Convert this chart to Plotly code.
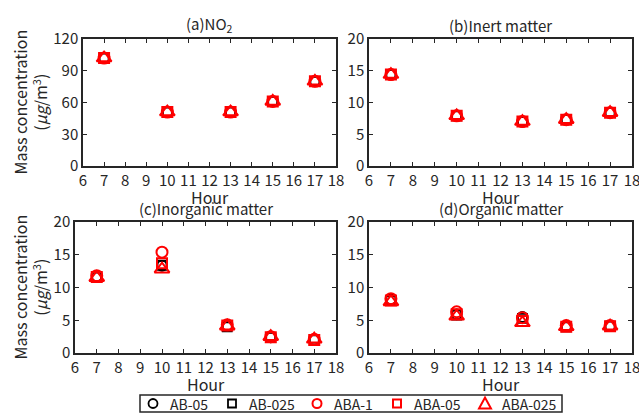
import plotly.graph_objects as go

W, H = 639, 413

hours = [7, 10, 13, 15, 17]
series_names = ["AB-05", "AB-025", "ABA-1", "ABA-05", "ABA-025"]

# (a) NO2
no2_ab05 = [102, 51, 51, 61, 80]
no2_ab025 = [102, 51, 51, 61, 80]
no2_aba1 = [102, 51, 51, 61, 80]
no2_aba05 = [102, 51, 51, 61, 80]
no2_aba025 = [102, 51, 51, 61, 80]

# (b) Inert matter
inert_ab05 = [14.4, 7.9, 7.0, 7.3, 8.4]
inert_ab025 = [14.4, 7.9, 7.0, 7.3, 8.4]
inert_aba1 = [14.4, 7.9, 7.0, 7.3, 8.4]
inert_aba05 = [14.4, 7.9, 7.0, 7.3, 8.4]
inert_aba025 = [14.4, 7.9, 7.0, 7.3, 8.4]

# (c) Inorganic matter
inorg_ab05 = [11.7, 13.3, 4.1, 2.4, 2.0]
inorg_ab025 = [11.6, 13.4, 4.0, 2.4, 2.0]
inorg_aba1 = [11.8, 15.4, 4.3, 2.5, 2.1]
inorg_aba05 = [11.6, 13.7, 4.2, 2.4, 2.0]
inorg_aba025 = [11.5, 12.8, 4.1, 2.5, 2.1]

# (d) Organic matter
org_ab05 = [8.2, 5.9, 5.5, 4.1, 4.1]
org_ab025 = [8.0, 5.8, 5.3, 4.0, 4.1]
org_aba1 = [8.3, 6.3, 5.4, 4.2, 4.2]
org_aba05 = [8.0, 5.9, 4.9, 4.0, 4.1]
org_aba025 = [7.8, 5.6, 4.6, 4.0, 4.1]

titles = ["(a)NO<sub>2</sub>", "(b)Inert matter", "(c)Inorganic matter", "(d)Organic matter"]
x_ticks = list(range(6, 19))
y_ranges = [(0, 120, 30), (0, 20, 5), (0, 20, 5), (0, 20, 5)]

panels = [
    [no2_ab05, no2_ab025, no2_aba1, no2_aba05, no2_aba025],
    [inert_ab05, inert_ab025, inert_aba1, inert_aba05, inert_aba025],
    [inorg_ab05, inorg_ab025, inorg_aba1, inorg_aba05, inorg_aba025],
    [org_ab05, org_ab025, org_aba1, org_aba05, org_aba025],
]

styles = [
    dict(symbol="circle-open", color="black", size=10),
    dict(symbol="square-open", color="black", size=9),
    dict(symbol="circle-open", color="red", size=11),
    dict(symbol="square-open", color="red", size=10),
    dict(symbol="triangle-up-open", color="red", size=13),
]

# pixel boxes: (left, right, top, bottom)
boxes = [(83, 336, 39, 166), (369, 632, 39, 166), (75, 336, 222, 353), (369, 632, 222, 353)]

FONT = "Noto Sans CJK JP"
TXT = "#262626"

fig = go.Figure()
for p, vals in enumerate(panels):
    ax = "" if p == 0 else str(p + 1)
    for s, v in enumerate(vals):
        st = styles[s]
        fig.add_trace(go.Scatter(
            x=hours, y=v, mode="markers", name=series_names[s],
            xaxis="x" + ax, yaxis="y" + ax, showlegend=False,
            marker=dict(symbol=st["symbol"], color=st["color"], size=st["size"],
                        line=dict(width=2 if st["color"] == "red" else 1.8, color=st["color"])),
        ))

layout = dict(
    width=W, height=H, margin=dict(l=0, r=0, t=0, b=0, autoexpand=False),
    paper_bgcolor="white", plot_bgcolor="white",
    font=dict(family=FONT, size=14, color=TXT),
    showlegend=False,
    annotations=[], shapes=[],
)

for p, (l, r, t, b) in enumerate(boxes):
    ax = "" if p == 0 else str(p + 1)
    y0, y1, dy = y_ranges[p]
    layout["xaxis" + ax] = dict(
        domain=[l / W, r / W], anchor="y" + ax, range=[6, 18],
        tickvals=x_ticks, ticks="inside", ticklen=4, tickwidth=1, tickcolor=TXT,
        showline=True, linecolor=TXT, linewidth=1.5, mirror="ticks",
        showgrid=False, zeroline=False, tickfont=dict(size=15, color=TXT),
        ticklabeloverflow="allow",
    )
    layout["yaxis" + ax] = dict(
        domain=[1 - b / H, 1 - t / H], anchor="x" + ax, range=[y0, y1],
        tickvals=list(range(y0, y1 + 1, dy)), ticks="inside", ticklen=4, tickwidth=1,
        tickcolor=TXT, showline=True, linecolor=TXT, linewidth=1.5, mirror="ticks",
        showgrid=False, zeroline=False, tickfont=dict(size=15, color=TXT),
    )
    cx = (l + r) / 2 / W
    layout["annotations"].append(dict(
        text=titles[p], x=cx, y=1 - (t - 1) / H, xref="paper", yref="paper",
        xanchor="center", yanchor="bottom", showarrow=False, font=dict(size=15, color=TXT)))
    layout["annotations"].append(dict(
        text="Hour", x=cx, y=1 - (b + 31) / H, xref="paper", yref="paper",
        xanchor="center", yanchor="middle", showarrow=False, font=dict(size=16, color=TXT)))
    if p in (0, 2):
        layout["annotations"].append(dict(
            text="Mass concentration<br>(<i>μg</i>/m<sup>3</sup>)", x=30 / W, y=1 - (t + b) / 2 / H,
            xref="paper", yref="paper", xanchor="center", yanchor="middle", textangle=-90,
            showarrow=False, font=dict(size=16, color=TXT)))

# legend box (drawn manually to match the compact reference legend)
leg_l, leg_r, leg_t, leg_b = 140, 562, 395, 412
layout["shapes"].append(dict(type="rect", xref="paper", yref="paper",
                             x0=leg_l / W, x1=leg_r / W, y0=1 - leg_b / H, y1=1 - leg_t / H,
                             line=dict(color=TXT, width=1.5), fillcolor="white", layer="above"))
sym_x = [153, 232, 317, 397, 485]
cy = (leg_t + leg_b) / 2


def px(x, y):
    return x / W, 1 - y / H


for s, st in enumerate(styles):
    c = st["color"]
    lw = 2 if c == "red" else 1.8
    sx = sym_x[s]
    if st["symbol"].startswith("circle"):
        r = 4.5
        x0, y0 = px(sx - r, cy + r)
        x1, y1 = px(sx + r, cy - r)
        layout["shapes"].append(dict(type="circle", xref="paper", yref="paper",
                                     x0=x0, y0=y0, x1=x1, y1=y1,
                                     line=dict(color=c, width=lw), layer="above"))
    elif st["symbol"].startswith("square"):
        r = 4
        x0, y0 = px(sx - r, cy + r)
        x1, y1 = px(sx + r, cy - r)
        layout["shapes"].append(dict(type="rect", xref="paper", yref="paper",
                                     x0=x0, y0=y0, x1=x1, y1=y1,
                                     line=dict(color=c, width=lw), layer="above"))
    else:
        pts = [px(sx - 6, cy + 5), px(sx + 6, cy + 5), px(sx, cy - 6)]
        path = "M {} {} L {} {} L {} {} Z".format(pts[0][0], pts[0][1], pts[1][0], pts[1][1],
                                                  pts[2][0], pts[2][1])
        layout["shapes"].append(dict(type="path", xref="paper", yref="paper", path=path,
                                     line=dict(color=c, width=lw), layer="above"))
    layout["annotations"].append(dict(
        text=series_names[s], x=(sx + 15) / W, y=1 - cy / H, xref="paper", yref="paper",
        xanchor="left", yanchor="middle", showarrow=False, font=dict(size=14, color=TXT)))

fig.update_layout(**layout)
fig.write_html("out.html", config={"displayModeBar": False},
               post_script="document.body.style.margin='0px';")
